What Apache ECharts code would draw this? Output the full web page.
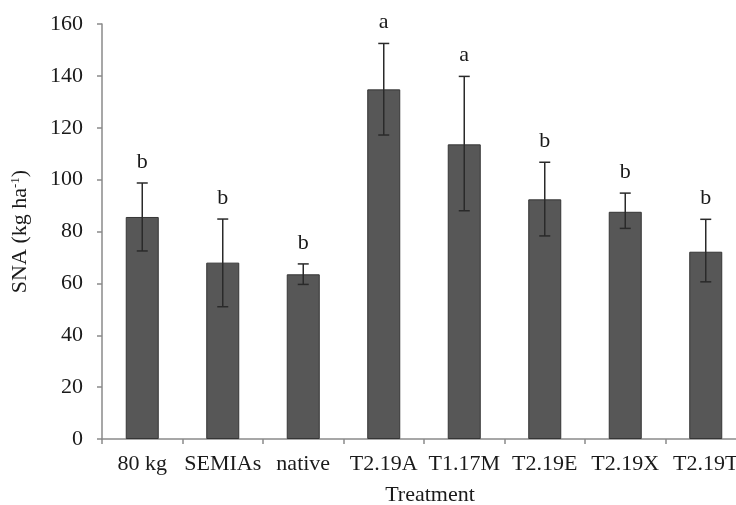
<!DOCTYPE html>
<html>
<head>
<meta charset="utf-8">
<script src="https://cdn.jsdelivr.net/npm/echarts@6/dist/echarts.min.js"></script>
<style>
  html, body { margin: 0; padding: 0; background: #fff; }
  #chart { width: 736px; height: 505px; }
</style>
</head>
<body>
<div id="chart"></div>
<script>
// values
const treatments = ['80 kg', 'SEMIAs', 'native', 'T2.19A', 'T1.17M', 'T2.19E', 'T2.19X', 'T2.19T']
const sna = [85.6, 68, 63.5, 134.8, 113.6, 92.4, 87.6, 72.2]
const errLow = [72.5, 51, 59.6, 117.2, 88, 78.3, 81.2, 60.6]
const errHigh = [98.7, 84.8, 67.5, 152.5, 139.8, 106.7, 94.8, 84.7]
const groups = ['b', 'b', 'b', 'a', 'a', 'b', 'b', 'b']

const font = 'Liberation Serif, Times New Roman, serif'
const textColor = '#1a1a1a'
const axisColor = '#8a8a8a'

const chart = echarts.init(document.getElementById('chart'))

chart.setOption({
  animation: false,
  backgroundColor: '#fff',
  grid: {
    left: 102,
    top: 24,
    width: 644,
    height: 415,
    containLabel: false,
    outerBoundsMode: 'none'
  },
  xAxis: {
    type: 'category',
    data: treatments,
    name: 'Treatment',
    nameLocation: 'middle',
    nameGap: 45,
    nameTextStyle: {fontFamily: font, fontSize: 22, color: textColor, padding: [0, 0, 0, 12]},
    axisLine: {lineStyle: {color: axisColor, width: 1.5}},
    axisTick: {show: true, length: 5, lineStyle: {color: axisColor, width: 1.5}},
    axisLabel: {fontFamily: font, fontSize: 22, color: textColor, margin: 14, interval: 0}
  },
  yAxis: {
    type: 'value',
    min: 0,
    max: 160,
    interval: 20,
    name: 'SNA (kg ha{sup|-1})',
    nameLocation: 'middle',
    nameGap: 71,
    nameTextStyle: {
      fontFamily: font,
      fontSize: 22,
      color: textColor,
      rich: {
        sup: {fontFamily: font, fontSize: 13, color: textColor, verticalAlign: 'top', padding: [0, 0, 8, 0]}
      }
    },
    splitLine: {show: false},
    axisLine: {show: true, lineStyle: {color: axisColor, width: 1.5}},
    axisTick: {show: true, length: 5, lineStyle: {color: axisColor, width: 1.5}},
    axisLabel: {fontFamily: font, fontSize: 22, color: textColor, margin: 19}
  },
  series: [
    {
      type: 'bar',
      data: sna,
      barWidth: '41%',
      itemStyle: {color: '#575757', borderColor: '#353535', borderWidth: 1}
    },
    {
      type: 'custom',
      data: treatments.map((t, i) => [i, errLow[i], errHigh[i]]),
      z: 5,
      renderItem: function (params, api) {
        const i = api.value(0)
        const lo = api.coord([i, api.value(1)])
        const hi = api.coord([i, api.value(2)])
        const x = lo[0]
        const half = 5.5
        const style = {stroke: '#2a2a2a', lineWidth: 1.5}
        return {
          type: 'group',
          children: [
            {type: 'line', shape: {x1: x, y1: lo[1], x2: x, y2: hi[1]}, style: style},
            {type: 'line', shape: {x1: x - half, y1: lo[1], x2: x + half, y2: lo[1]}, style: style},
            {type: 'line', shape: {x1: x - half, y1: hi[1], x2: x + half, y2: hi[1]}, style: style},
            {
              type: 'text',
              x: x,
              y: hi[1] - 10,
              style: {
                text: groups[i],
                font: '22px ' + font,
                fill: textColor,
                align: 'center',
                verticalAlign: 'bottom'
              }
            }
          ]
        }
      }
    }
  ]
})
</script>
</body>
</html>
